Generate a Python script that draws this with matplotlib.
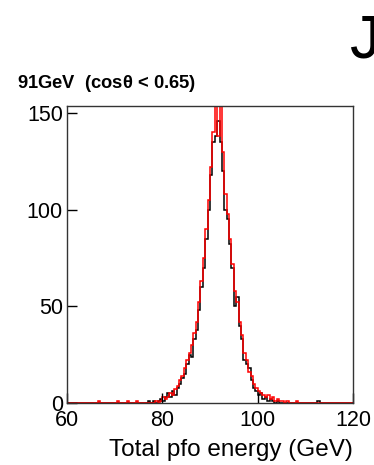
import numpy as np
import matplotlib
matplotlib.use('Agg')
import matplotlib.pyplot as plt

plt.rcParams['font.family'] = ['Liberation Sans', 'DejaVu Sans']

# bin edges: 0.5 GeV bins from 60 to 120
bin_width = 0.5
bin_lo = 60.0
n_bins = 120

# counts per bin, keyed by bin start energy (GeV); all other bins are empty
black_start = [77.0, 78.0, 79.0, 79.5, 80.0, 80.5, 81.0, 81.5, 82.0, 82.5,
               83.0, 83.5, 84.0, 84.5, 85.0, 85.5, 86.0, 86.5, 87.0, 87.5,
               88.0, 88.5, 89.0, 89.5, 90.0, 90.5, 91.0, 91.5, 92.0, 92.5,
               93.0, 93.5, 94.0, 94.5, 95.0, 95.5, 96.0, 96.5, 97.0, 97.5,
               98.0, 98.5, 99.0, 99.5, 100.0, 100.5, 101.0, 101.5, 102.0, 102.5,
               103.0, 104.0, 112.5]
black_counts = [1, 1, 1, 2, 1, 3, 5, 3, 6, 4,
                8, 10, 13, 15, 20, 25, 24, 33, 38, 48,
                60, 70, 85, 100, 118, 135, 138, 146, 135, 120,
                100, 95, 82, 70, 50, 55, 40, 33, 22, 20,
                18, 12, 8, 6, 4, 5, 2, 3, 1, 2,
                1, 1, 1]

red_start = [66.5, 70.5, 72.5, 74.5, 78.5, 79.5, 80.0, 80.5, 81.0, 81.5,
             82.0, 82.5, 83.0, 83.5, 84.0, 84.5, 85.0, 85.5, 86.0, 86.5,
             87.0, 87.5, 88.0, 88.5, 89.0, 89.5, 90.0, 90.5, 91.0, 91.5,
             92.0, 92.5, 93.0, 93.5, 94.0, 94.5, 95.0, 95.5, 96.0, 96.5,
             97.0, 97.5, 98.0, 98.5, 99.0, 99.5, 100.0, 100.5, 101.0, 101.5,
             102.0, 102.5, 103.0, 103.5, 104.0, 104.5, 105.0, 106.0, 108.0]
red_counts = [1, 1, 1, 1, 1, 1, 3, 2, 3, 5,
              4, 7, 9, 12, 14, 18, 22, 26, 30, 36,
              42, 52, 63, 75, 90, 105, 122, 140, 160, 138,
              160, 130, 108, 98, 85, 72, 58, 52, 42, 35,
              26, 22, 16, 14, 10, 8, 6, 5, 4, 3,
              4, 2, 3, 1, 2, 1, 1, 1, 1]


def fill_hist(starts, counts):
    h = np.zeros(n_bins)
    for s, c in zip(starts, counts):
        h[int(round((s - bin_lo) / bin_width))] = c
    return h


edges = bin_lo + bin_width * np.arange(n_bins + 1)
h_black = fill_hist(black_start, black_counts)
h_red = fill_hist(red_start, red_counts)

fig = plt.figure(figsize=(3.74, 4.65), dpi=100)
ax = fig.add_axes([0.179, 0.1333, 0.765, 0.6387])

ax.stairs(h_black, edges, color='black', lw=1.1)
ax.stairs(h_red, edges, color='red', lw=1.1)

ax.set_xlim(60, 120)
ax.set_ylim(0, 153.6)
ax.set_xticks([60, 80, 100, 120])
ax.set_yticks([0, 50, 100, 150])
ax.tick_params(direction='in', length=7, width=1, labelsize=15.5, pad=3,
               top=False, right=False)
ax.tick_params(axis='x', pad=5)
for sp in ax.spines.values():
    sp.set_color('#333333')
    sp.set_linewidth(1.0)

ax.set_xlabel('Total pfo energy (GeV)', fontsize=17.5, loc='right', labelpad=6)

fig.text(17 / 374, 1 - 83 / 465, r'91GeV  (cos$\mathregular{\theta}$ < 0.65)',
         fontsize=13.2, fontweight='bold', va='center', ha='left')
fig.text(350 / 374, 1 - 57 / 465, 'J', fontsize=44, va='baseline', ha='left')

fig.savefig('out.png', dpi=100)
